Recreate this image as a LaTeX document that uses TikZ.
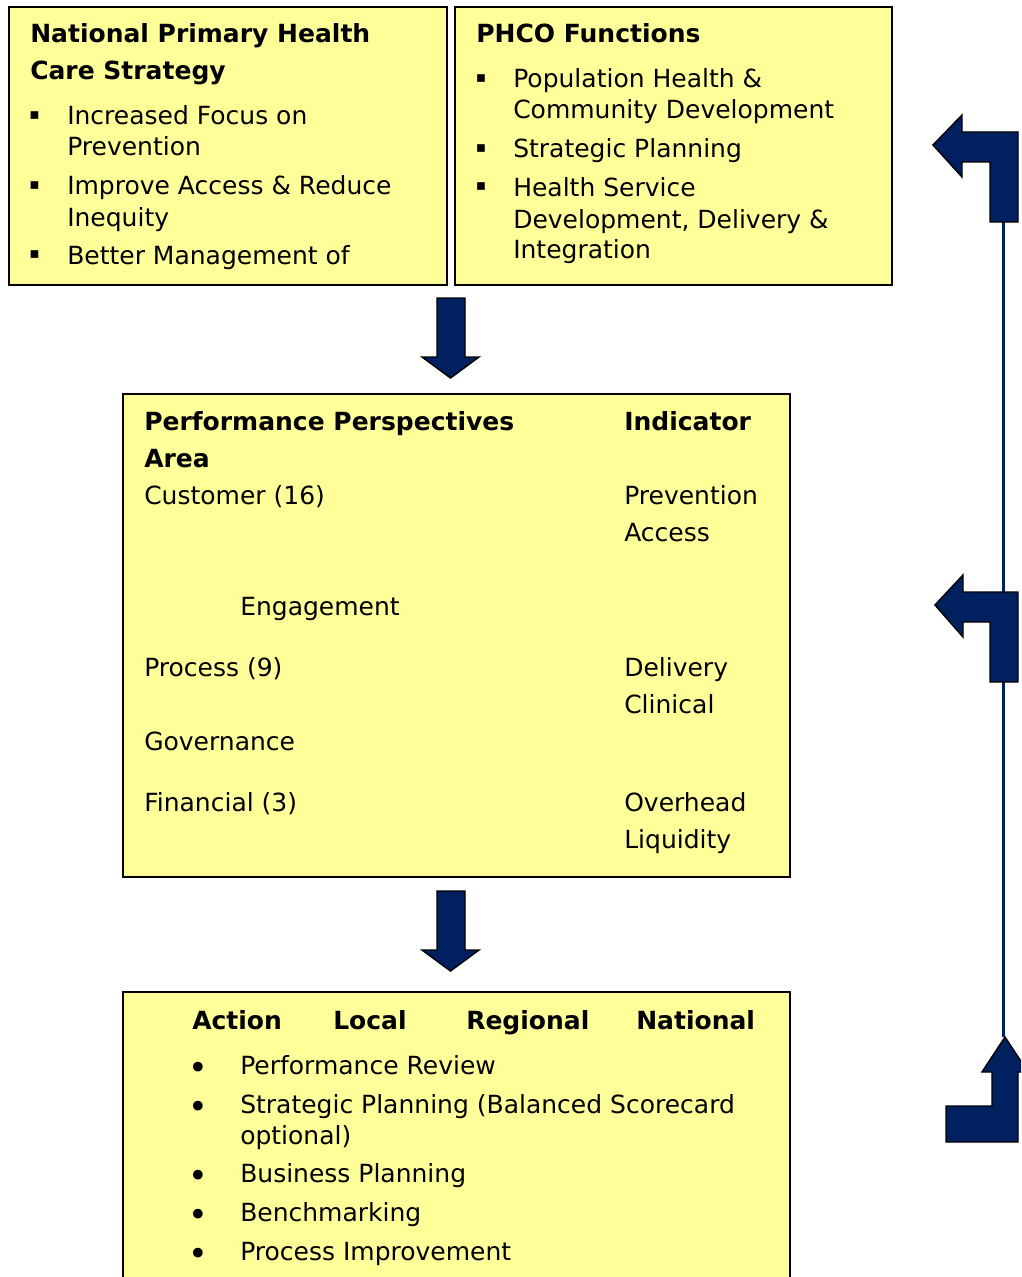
\documentclass[tikz,border=0pt]{standalone}
\usepackage{fontspec}
\setmainfont{DejaVu Sans}
\definecolor{note}{RGB}{255,255,153}
\definecolor{navy}{RGB}{0,32,96}
\tikzset{
  txt/.style={anchor=base west, inner sep=0pt, font=\fontsize{18.75}{22}\selectfont},
  hd/.style={anchor=base west, inner sep=0pt, font=\fontsize{18.75}{22}\selectfont\bfseries},
  sq/.style={inner sep=0pt, font=\fontsize{11.5}{14}\selectfont},
  dot/.style={inner sep=0pt, font=\fontsize{25}{28}\selectfont},
  panel/.style={draw=black, fill=note, line width=1.1pt},
  blk/.style={draw=black, fill=navy, line width=1.1pt, line join=miter},
}

\begin{document}
\begin{tikzpicture}[x=0.75pt,y=0.75pt,yscale=-1,xscale=1]
\useasboundingbox (0,0) rectangle (1021,1277);
\clip (0,0) rectangle (1021,1277);

%Shape: Rectangle
\draw [panel] (9,7) rectangle (447,285);
%Shape: Rectangle
\draw [panel] (455,7) rectangle (892,285);
%Shape: Rectangle
\draw [panel] (123,394) rectangle (790,877);
%Shape: Rectangle
\draw [panel] (123,992) rectangle (790,1300);

%Down Arrow
\draw [blk] (437,298) -- (465,298) -- (465,357) -- (479,357) -- (450.5,378) -- (422,357) -- (437,357) -- cycle ;
%Down Arrow
\draw [blk] (437,891) -- (465,891) -- (465,950) -- (479,950) -- (450.5,971) -- (422,950) -- (437,950) -- cycle ;

%Straight Lines
\draw [color=navy, line width=2.25pt] (1003,222) -- (1003,1037) ;
%Bent Arrow
\draw [blk] (933,145) -- (962,115) -- (962,132) -- (1018,132) -- (1018,222) -- (990,222) -- (990,162) -- (962,162) -- (962,177) -- cycle ;
%Bent Arrow
\draw [blk] (935,605) -- (963,575) -- (963,592) -- (1018,592) -- (1018,682) -- (990,682) -- (990,622) -- (963,622) -- (963,637) -- cycle ;
%Bent Up Arrow
\draw [blk] (1005,1037) -- (1028,1072) -- (1018,1072) -- (1018,1142) -- (946,1142) -- (946,1106) -- (992,1106) -- (992,1072) -- (982,1072) -- cycle ;

% Text Node
\node (nphTitleA) at (30,43) [hd] {National Primary Health};
\node (nphTitleB) at (30,80) [hd] {Care Strategy};
\node (nphDotA) at (34.5,116) [sq] {▪};
\node (nphA1) at (67,125) [txt] {Increased Focus on};
\node (nphA2) at (67,156) [txt] {Prevention};
\node (nphDotB) at (34.5,186) [sq] {▪};
\node (nphB1) at (67,195) [txt] {Improve Access \& Reduce};
\node (nphB2) at (67,226) [txt] {Inequity};
\node (nphDotC) at (34.5,255) [sq] {▪};
\node (nphC1) at (67,264) [txt] {Better Management of};

% Text Node
\node (phcoTitle) at (476,43) [hd] {PHCO Functions};
\node (phcoDotA) at (481,79) [sq] {▪};
\node (phcoA1) at (513,88) [txt] {Population Health \&};
\node (phcoA2) at (513,119) [txt] {Community Development};
\node (phcoDotB) at (481,149) [sq] {▪};
\node (phcoB1) at (513,158) [txt] {Strategic Planning};
\node (phcoDotC) at (481,187) [sq] {▪};
\node (phcoC1) at (513,196) [txt] {Health Service};
\node (phcoC2) at (513,228) [txt] {Development, Delivery \&};
\node (phcoC3) at (513,258) [txt] {Integration};

% Text Node
\node (ppHeadA) at (144,430) [hd] {Performance Perspectives};
\node (ppHeadB) at (144,467) [hd] {Area};
\node (ppInd) at (624,430) [hd] {Indicator};
\node (ppCust) at (144,504) [txt] {Customer (16)};
\node (ppPrev) at (624,504) [txt] {Prevention};
\node (ppAcc) at (624,541) [txt] {Access};
\node (ppEng) at (240,615) [txt] {Engagement};
\node (ppProc) at (144,676) [txt] {Process (9)};
\node (ppDel) at (624,676) [txt] {Delivery};
\node (ppClin) at (624,713) [txt] {Clinical};
\node (ppGov) at (144,750) [txt] {Governance};
\node (ppFin) at (144,811) [txt] {Financial (3)};
\node (ppOver) at (624,811) [txt] {Overhead};
\node (ppLiq) at (624,848) [txt] {Liquidity};

% Text Node
\node (actHead) at (192,1029) [hd] {Action};
\node (actLocal) at (333,1029) [hd] {Local};
\node (actRegional) at (466,1029) [hd] {Regional};
\node (actNational) at (636,1029) [hd] {National};
\node (actDotA) at (198,1071) [dot] {•};
\node (actA1) at (240,1074) [txt] {Performance Review};
\node (actDotB) at (198,1110) [dot] {•};
\node (actB1) at (240,1113) [txt] {Strategic Planning (Balanced Scorecard};
\node (actB2) at (240,1144) [txt] {optional)};
\node (actDotC) at (198,1179) [dot] {•};
\node (actC1) at (240,1182) [txt] {Business Planning};
\node (actDotD) at (198,1218) [dot] {•};
\node (actD1) at (240,1221) [txt] {Benchmarking};
\node (actDotE) at (198,1257) [dot] {•};
\node (actE1) at (240,1260) [txt] {Process Improvement};

\end{tikzpicture}
\end{document}
